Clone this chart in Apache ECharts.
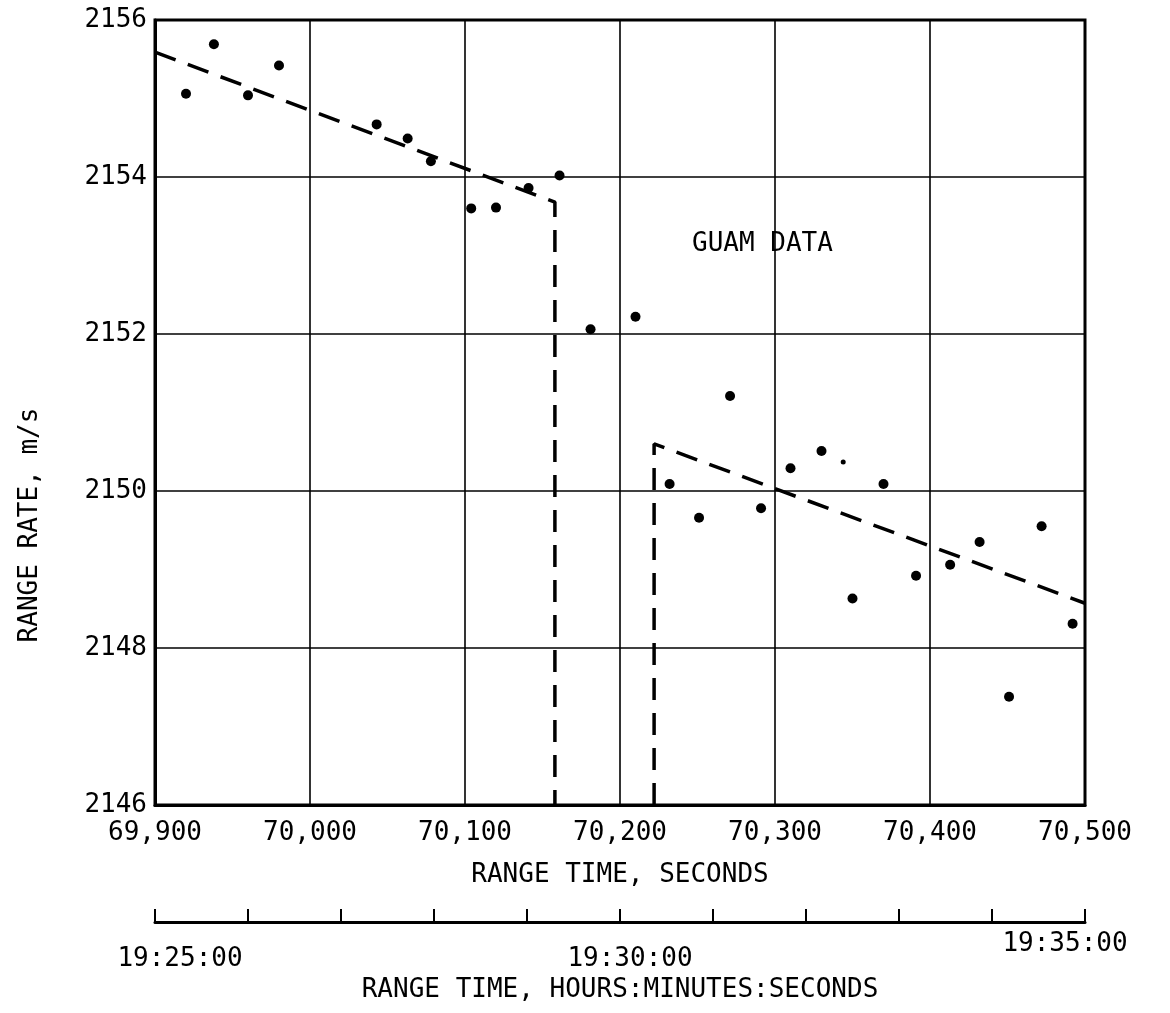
<!DOCTYPE html>
<html>
<head>
<meta charset="utf-8">
<script src="https://cdn.jsdelivr.net/npm/echarts@6/dist/echarts.min.js"></script>
<style>
html,body{margin:0;padding:0;background:#fff;}
#chart{width:1170px;height:1013px;}
</style>
</head>
<body>
<div id="chart"></div>
<script>
// Range time (s) and range rate (m/s) of the Guam data points
const timeSec = [69920, 69938, 69960, 69980, 70043, 70063, 70078, 70104, 70120, 70141, 70161,
  70181, 70210, 70232, 70251, 70271, 70291, 70310, 70330, 70350, 70370, 70391, 70413, 70432,
  70451, 70472, 70492];
const rangeRate = [2155.06, 2155.69, 2155.04, 2155.42, 2154.67, 2154.49, 2154.20, 2153.60, 2153.61,
  2153.86, 2154.02, 2152.06, 2152.22, 2150.09, 2149.66, 2151.21, 2149.78, 2150.29, 2150.51,
  2148.63, 2150.09, 2148.92, 2149.06, 2149.35, 2147.38, 2149.55, 2148.31];
// faint small dot
const smallDotTime = [70344];
const smallDotRate = [2150.37];
// dashed fit lines
const fit1Time = [69900, 70158, 70158];
const fit1Rate = [2155.59, 2153.68, 2146];
const fit2Time = [70222, 70222, 70500];
const fit2Rate = [2146, 2150.60, 2148.57];
// axes
const xMin = 69900, xMax = 70500, xStep = 100;
const yMin = 2146, yMax = 2156, yStep = 2;
const clockStep = 60;
const clockLabelEvery = 300;
const xTitle = 'RANGE TIME, SECONDS';
const clockTitle = 'RANGE TIME, HOURS:MINUTES:SECONDS';
const yTitle = 'RANGE RATE, m/s';
const annotation = 'GUAM DATA';

const FONT = "'DejaVu Sans Mono', 'Liberation Mono', monospace";
const FS = 26;
const zip = (a, b) => a.map((v, i) => [v, b[i]]);
const fmtComma = v => {
  const s = String(Math.round(v));
  return s.slice(0, s.length - 3) + ',' + s.slice(s.length - 3);
};
const fmtClock = v => {
  let t = Math.round(v);
  const h = Math.floor(t / 3600); t -= h * 3600;
  const m = Math.floor(t / 60); const s = t - m * 60;
  const p = n => (n < 10 ? '0' : '') + n;
  return h + ':' + p(m) + ':' + p(s);
};
const clockLabel = v => {
  if ((v - xMin) % clockLabelEvery !== 0) return '';
  const style = v === xMin ? 'a' : (v === xMax ? 'c' : 'b');
  return '{' + style + '|' + fmtClock(v) + '}';
};

const chart = echarts.init(document.getElementById('chart'), null, {renderer: 'canvas'});
const txt = {color: '#000', fontFamily: FONT, fontSize: FS};
const rt = Object.assign({}, txt);
chart.setOption({
  backgroundColor: '#fff',
  animation: false,
  grid: {left: 155, right: 85, top: 20, bottom: 208, show: true, borderColor: '#000', borderWidth: 3, backgroundColor: 'transparent'},
  xAxis: [{
    type: 'value', min: xMin, max: xMax, interval: xStep,
    axisLine: {show: true, lineStyle: {color: '#000', width: 3}},
    axisTick: {show: false},
    splitLine: {show: true, lineStyle: {color: '#000', width: 1.6}},
    axisLabel: Object.assign({}, txt, {margin: 15, formatter: fmtComma}),
    name: xTitle, nameLocation: 'middle', nameGap: 57,
    nameTextStyle: Object.assign({}, txt)
  }, {
    type: 'value', min: xMin, max: xMax, interval: clockStep, position: 'bottom', offset: 117,
    axisLine: {show: true, lineStyle: {color: '#000', width: 3}},
    axisTick: {show: true, inside: true, length: 13, lineStyle: {color: '#000', width: 2}},
    splitLine: {show: false},
    axisLabel: Object.assign({}, txt, {
      margin: 9, formatter: clockLabel,
      rich: {
        a: Object.assign({}, rt, {padding: [15, 0, 0, 50]}),
        b: Object.assign({}, rt, {padding: [15, 0, 0, 20]}),
        c: Object.assign({}, rt, {padding: [0, 40, 0, 0]})
      }
    }),
    name: clockTitle, nameLocation: 'middle', nameGap: 50,
    nameTextStyle: Object.assign({}, txt)
  }],
  yAxis: {
    type: 'value', min: yMin, max: yMax, interval: yStep,
    axisLine: {show: true, lineStyle: {color: '#000', width: 3}},
    axisTick: {show: false},
    splitLine: {show: true, lineStyle: {color: '#000', width: 1.6}},
    axisLabel: Object.assign({}, txt, {margin: 8, formatter: v => String(v)})
  },
  series: [{
    type: 'line', data: zip(fit1Time, fit1Rate), symbol: 'none',
    lineStyle: {color: '#000', width: 3.5, type: [22, 13]}, z: 3
  }, {
    type: 'line', data: zip(fit2Time, fit2Rate), symbol: 'none',
    lineStyle: {color: '#000', width: 3.5, type: [22, 13]}, z: 3
  }, {
    type: 'scatter', data: zip(timeSec, rangeRate), symbol: 'circle', symbolSize: 10,
    itemStyle: {color: '#000', opacity: 1}, z: 4
  }, {
    type: 'scatter', data: zip(smallDotTime, smallDotRate), symbol: 'circle', symbolSize: 5,
    itemStyle: {color: '#000', opacity: 1}, z: 4
  }],
  graphic: [{
    type: 'text', left: 692, top: 231,
    style: {text: annotation, fill: '#000', font: FS + 'px ' + FONT}
  }, {
    type: 'text', x: 30, y: 525, rotation: Math.PI / 2,
    style: {text: yTitle, fill: '#000', font: FS + 'px ' + FONT, textAlign: 'center', textVerticalAlign: 'middle'}
  }]
});
</script>
</body>
</html>
